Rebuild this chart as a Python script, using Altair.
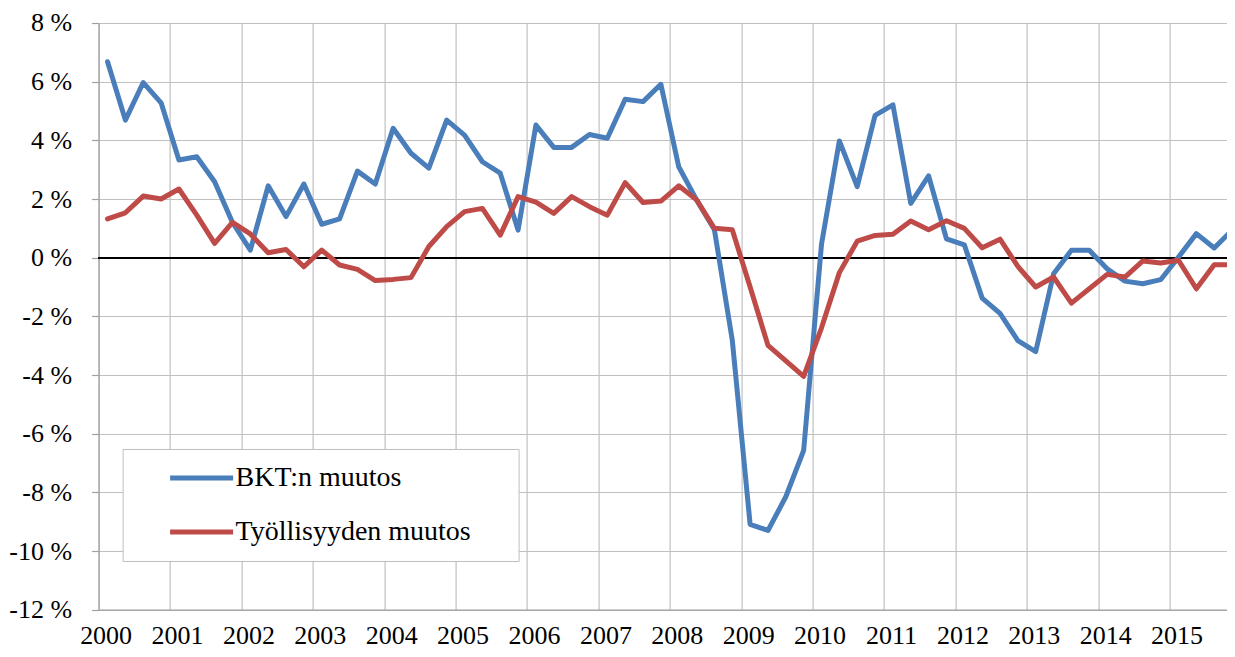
import altair as alt
import pandas as pd

# Quarterly data 2000Q1 .. 2015Q4 (year-on-year change, %)
years = list(range(2000, 2016))
series_names = ["BKT:n muutos", "Työllisyyden muutos"]
series_colors = ["#4A7EBB", "#BE4B48"]

bkt = [
    6.68, 4.69, 5.97, 5.28,
    3.33, 3.44, 2.59, 1.20,
    0.26, 2.45, 1.40, 2.51,
    1.14, 1.32, 2.95, 2.51,
    4.41, 3.56, 3.05, 4.69,
    4.18, 3.27, 2.88, 0.94,
    4.52, 3.76, 3.76, 4.20,
    4.07, 5.40, 5.32, 5.91,
    3.10, 1.97, 0.95, -2.81,
    -9.09, -9.30, -8.15, -6.57,
    0.46, 3.98, 2.42, 4.85,
    5.21, 1.85, 2.79, 0.64,
    0.44, -1.38, -1.90, -2.83,
    -3.20, -0.55, 0.25, 0.25,
    -0.38, -0.80, -0.89, -0.75,
    0.02, 0.82, 0.33, 0.94,
]

tyo = [
    1.32, 1.53, 2.10, 2.00,
    2.34, 1.45, 0.49, 1.20,
    0.81, 0.17, 0.28, -0.31,
    0.26, -0.25, -0.40, -0.78,
    -0.74, -0.68, 0.38, 1.06,
    1.57, 1.68, 0.77, 2.08,
    1.89, 1.51, 2.08, 1.74,
    1.45, 2.56, 1.88, 1.93,
    2.45, 1.97, 1.00, 0.95,
    -1.00, -2.99, -3.52, -4.05,
    -2.39, -0.51, 0.56, 0.76,
    0.80, 1.25, 0.95, 1.26,
    1.00, 0.34, 0.63, -0.30,
    -1.00, -0.66, -1.55, -1.06,
    -0.57, -0.66, -0.11, -0.18,
    -0.09, -1.06, -0.24, -0.24,
]

y_ticks = list(range(-12, 9, 2))
year_starts = [4 * k for k in range(len(years))]

rows = []
for name, vals in zip(series_names, [bkt, tyo]):
    for i, v in enumerate(vals):
        rows.append({"t": i + 0.5, "series": name, "value": v})
df = pd.DataFrame(rows)

FONT = "Times New Roman, Liberation Serif, DejaVu Serif, serif"
GRID = "#C0C0C0"
AXIS = "#A0A0A0"

PLOT_W = 1128.4
PX_PER_Q = 17.85

x_enc = alt.X(
    "t:Q",
    scale=alt.Scale(domain=[0, PLOT_W / PX_PER_Q], nice=False, zero=False),
    axis=alt.Axis(
        values=year_starts,
        labelExpr="'' + (2000 + datum.value / 4)",
        title=None,
        grid=True,
        ticks=False,
        tickSize=0,
        labelOffset=7,
        labelBaseline="alphabetic",
        labelPadding=34.3,
        labelFlush=False,
        labelOverlap=False,
        labelFont=FONT,
    ),
)

y_enc = alt.Y(
    "value:Q",
    scale=alt.Scale(domain=[-12, 8], nice=False, zero=False),
    axis=alt.Axis(
        values=y_ticks,
        labelExpr="datum.value + ' %'",
        title=None,
        grid=True,
        tickSize=7,
        labelPadding=20,
        labelOverlap=False,
        labelFont=FONT,
    ),
)

lines = alt.Chart(df).mark_line(
    strokeWidth=5, strokeJoin="round", strokeCap="round"
).encode(
    x=x_enc,
    y=y_enc,
    color=alt.Color(
        "series:N",
        scale=alt.Scale(domain=series_names, range=series_colors),
        legend=alt.Legend(
            orient="none",
            legendX=24,
            legendY=426,
            title="\u00a0",
            titleOrient="right",
            titlePadding=33,
            titleFontSize=28,
            titleFont=FONT,
            symbolType="stroke",
            symbolSize=3969,
            symbolStrokeWidth=5,
            symbolOffset=30,
            labelOffset=0,
            clipHeight=28,
            labelFont=FONT,
            labelFontSize=28,
            labelColor="black",
            labelLimit=0,
            rowPadding=26,
            padding=15,
            strokeColor="#BFBFBF",
            fillColor="white",
        ),
    ),
)

zero_line = alt.Chart(df).mark_rule(color="black", strokeWidth=1.5).encode(
    y=alt.datum(0)
)

chart = alt.layer(zero_line, lines).properties(
    width=PLOT_W,
    height=586.7,
    padding={"left": 90.6, "top": 15, "right": 0, "bottom": 40},
    autosize=alt.AutoSizeParams(type="none"),
    background="white",
).configure_view(
    stroke=None
).configure_axis(
    labelFont=FONT,
    labelFontSize=26,
    labelColor="black",
    gridColor=GRID,
    gridWidth=1.2,
    domainColor=AXIS,
    domainWidth=1.2,
    tickColor=AXIS,
    tickWidth=1.2,
).configure_legend(
    labelFont=FONT,
    titleFont=FONT,
)

chart.save("out.html", embed_options={"renderer": "svg", "actions": False})
